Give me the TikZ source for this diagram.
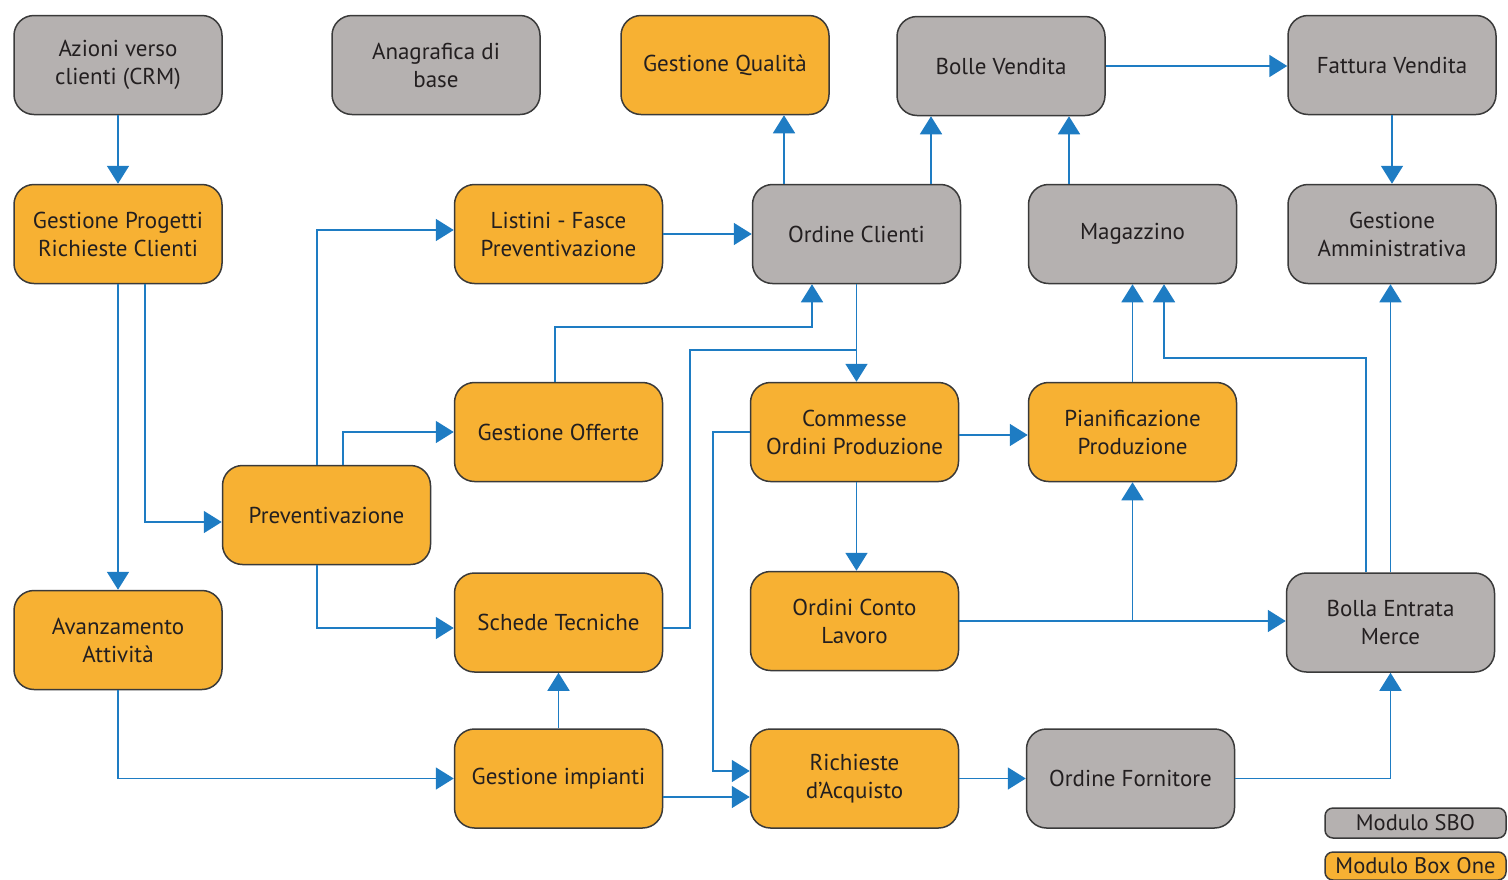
\documentclass[tikz,border=0pt]{standalone}
\usepackage{fontspec}
\setmainfont{PT Sans}
\usetikzlibrary{arrows.meta,calc}
\definecolor{boxorange}{HTML}{F7B133}
\definecolor{boxgray}{HTML}{B5B1B0}
\definecolor{edgecol}{HTML}{3A3A3A}
\definecolor{linkblue}{HTML}{1E7CC3}
\definecolor{txt}{HTML}{231F20}
\begin{document}
\begin{tikzpicture}[x=1pt,y=-1pt,
  base/.style={draw=edgecol,line width=1.5pt,rounded corners=20pt,minimum width=208pt,minimum height=99pt,
    inner sep=0pt,align=center,text=txt,font=\fontsize{23}{28}\selectfont},
  gbox/.style={base,fill=boxgray},
  obox/.style={base,fill=boxorange},
  arr/.style={draw=linkblue,line width=1.8pt,-{Triangle[length=18pt,width=22pt]}},
  ln/.style={draw=linkblue,line width=1.8pt},
  leg/.style={draw=edgecol,line width=1.5pt,rounded corners=8pt,minimum width=181pt,inner sep=0pt,text=txt,font=\fontsize{22.5}{24}\selectfont}]
\useasboundingbox (0,0) rectangle (1508,879);
% nodes
\node[gbox] (azioni) at (118,65) {Azioni verso\\clienti (CRM)};
\node[gbox] (anagrafica) at (436,65) {Anagrafica di\\base};
\node[obox] (qualita) at (725,65) {Gestione Qualità};
\node[gbox] (bolle) at (1001,66) {Bolle Vendita};
\node[gbox] (fattura) at (1392,65) {Fattura Vendita};
\node[obox] (progetti) at (118,234) {Gestione Progetti\\Richieste Clienti};
\node[obox] (listini) at (558.5,234) {Listini - Fasce\\Preventivazione};
\node[gbox] (ordine) at (856.5,234) {Ordine Clienti};
\node[gbox] (magazzino) at (1132.5,234) {Magazzino};
\node[gbox] (amministrativa) at (1392,234) {Gestione\\Amministrativa};
\node[obox] (offerte) at (558.5,432) {Gestione Offerte};
\node[obox] (commesse) at (854.5,432) {Commesse\\Ordini Produzione};
\node[obox] (pianificazione) at (1132.5,432) {Pianificazione\\Produzione};
\node[obox] (prev) at (326.5,515) {Preventivazione};
\node[obox] (avanzamento) at (118,640) {Avanzamento\\Attività};
\node[obox] (schede) at (558.5,622.5) {Schede Tecniche};
\node[obox] (contolavoro) at (854.5,621) {Ordini Conto\\Lavoro};
\node[gbox] (bollaentrata) at (1390.5,622.5) {Bolla Entrata\\Merce};
\node[obox] (impianti) at (558.5,778.5) {Gestione impianti};
\node[obox] (richieste) at (854.5,778.5) {Richieste\\d’Acquisto};
\node[gbox] (fornitore) at (1130.5,778.5) {Ordine Fornitore};
\node[leg,fill=boxgray,minimum height=30pt] (legsbo) at (1415.5,823) {Modulo SBO};
\node[leg,fill=boxorange,minimum height=28pt] (legbox) at (1415.5,866) {Modulo Box One};
% helper coordinates
\coordinate (k1) at (812,327);
\coordinate (k2) at (690,350);
\coordinate (k3) at (713,771);
\coordinate (k4) at (1164,358);
\path ([xshift=-72.5pt]ordine.north) coordinate (o1);
\path ([xshift=74.5pt]ordine.north) coordinate (o2);
\path ([xshift=-63.5pt]magazzino.north) coordinate (m1);
\path ([yshift=-18.5pt]impianti.east) coordinate (k5);
% connectors
\draw[arr] (azioni) -- (progetti);
\draw[arr] (progetti) -- (avanzamento);
\draw[arr] ([xshift=27pt]progetti.south) |- ([yshift=-7pt]prev.west);
\draw[arr] ([xshift=-9.5pt]prev.north) |- ([yshift=4pt]listini.west);
\draw[arr] ([xshift=16.5pt]prev.north) |- (offerte.west);
\draw[arr] ([xshift=-9.5pt]prev.south) |- ([yshift=-5.5pt]schede.west);
\draw[arr] (listini.east) -- (listini.east -| ordine.west);
\draw[arr] (o1) -- (o1 |- qualita.south);
\draw[arr] (o2) -- (o2 |- bolle.south);
\draw[arr] (m1) -- (m1 |- bolle.south);
\draw[arr] (bolle.east) -- (bolle.east -| fattura.west);
\draw[arr] (fattura) -- (fattura.south |- amministrativa.north);
\draw[arr] ([xshift=-3.5pt]offerte.north) |- (k1) -- (k1 |- ordine.south);
\draw[arr] (ordine.south) -- (ordine.south |- commesse.north);
\draw[ln] ([yshift=-5.5pt]schede.east) -| (k2) -- (k2 -| ordine.south);
\draw[arr] ([yshift=-3pt]commesse.east) -- ([yshift=-3pt]commesse.east -| pianificazione.west);
\draw[arr] ([xshift=2pt]commesse.south) -- ([xshift=2pt]commesse.south |- contolavoro.north);
\draw[arr] (commesse.west) -| (k3) -- (k3 -| richieste.west);
\draw[arr] (pianificazione) -- (pianificazione.north |- magazzino.south);
\draw[arr] (contolavoro.east) -- (contolavoro.east -| bollaentrata.west);
\draw[arr] (contolavoro.east -| pianificazione.south) -- (pianificazione.south);
\draw[arr] ([xshift=-24.5pt]bollaentrata.north) |- (k4) -- (k4 |- magazzino.south);
\draw[arr] (bollaentrata.north) -- (bollaentrata.north |- amministrativa.south);
\draw[arr] (avanzamento.south) |- (impianti.west);
\draw[arr] (impianti) -- (impianti.north |- schede.south);
\draw[arr] (k5) -- (k5 -| richieste.west);
\draw[arr] (richieste.east) -- (richieste.east -| fornitore.west);
\draw[arr] (fornitore.east) -| (bollaentrata.south);
\end{tikzpicture}
\end{document}
